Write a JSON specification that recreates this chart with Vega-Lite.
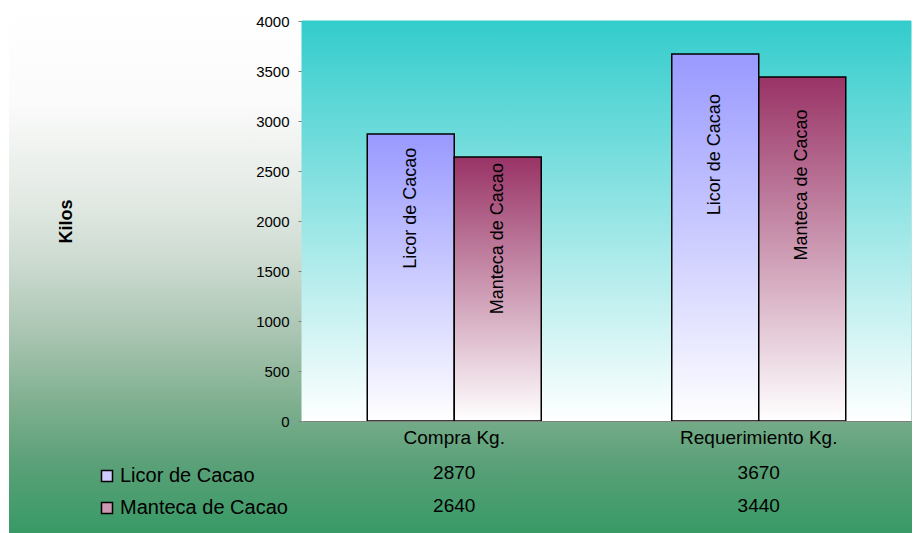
{
  "$schema": "https://vega.github.io/schema/vega-lite/v6.json",
  "width": 903,
  "height": 526,
  "autosize": {"type": "none"},
  "padding": {"left": 9, "top": 7, "right": 3, "bottom": 0},
  "background": "#ffffff",
  "view": {
    "stroke": null,
    "fill": {
      "gradient": "linear", "x1": 0, "y1": 0, "x2": 0, "y2": 1,
      "stops": [
        {"offset": 0, "color": "#ffffff"},
        {"offset": 0.18, "color": "#fbfbfb"},
        {"offset": 0.37, "color": "#e2e9e3"},
        {"offset": 0.49, "color": "#cbdacf"},
        {"offset": 0.62, "color": "#aac5b2"},
        {"offset": 0.75, "color": "#80b090"},
        {"offset": 0.87, "color": "#5aa078"},
        {"offset": 1, "color": "#389a66"}
      ]
    }
  },
  "data": {
    "values": [
      {"category": "Compra Kg.", "series": "Licor de Cacao", "value": 2870},
      {"category": "Compra Kg.", "series": "Manteca de Cacao", "value": 2640},
      {"category": "Requerimiento Kg.", "series": "Licor de Cacao", "value": 3670},
      {"category": "Requerimiento Kg.", "series": "Manteca de Cacao", "value": 3440}
    ]
  },
  "encoding": {
    "x": {
      "field": "category",
      "type": "nominal",
      "sort": ["Compra Kg.", "Requerimiento Kg."],
      "scale": {"range": [293, 902], "paddingInner": 0, "paddingOuter": 0},
      "axis": {
        "title": null,
        "offset": -112,
        "labelAngle": 0,
        "ticks": false,
        "domainColor": "#808080",
        "labelFont": "Liberation Sans",
        "labelFontSize": 19,
        "labelColor": "#000000",
        "labelPadding": 7
      }
    }
  },
  "layer": [
    {
      "transform": [{"aggregate": [{"op": "count", "as": "n"}], "groupby": ["category"]}],
      "mark": {
        "type": "rect",
        "fill": {
          "gradient": "linear", "x1": 0, "y1": 0, "x2": 0, "y2": 1,
          "stops": [{"offset": 0, "color": "#33cccc"}, {"offset": 1, "color": "#ffffff"}]
        },
        "stroke": {
          "gradient": "linear", "x1": 0, "y1": 0, "x2": 0, "y2": 1,
          "stops": [{"offset": 0, "color": "#33cccc"}, {"offset": 1, "color": "#ffffff"}]
        },
        "strokeWidth": 1
      },
      "encoding": {
        "y": {"datum": 4000, "type": "quantitative", "scale": {"domain": [0, 4000], "range": [414, 14], "nice": false}, "axis": null},
        "y2": {"datum": 0}
      }
    },
    {
      "mark": {"type": "bar", "stroke": "#000000", "strokeWidth": 1.5},
      "encoding": {
        "y": {
          "field": "value",
          "type": "quantitative",
          "scale": {"domain": [0, 4000], "range": [414, 14], "nice": false},
          "axis": {
            "offset": -293,
            "values": [0, 500, 1000, 1500, 2000, 2500, 3000, 3500, 4000],
            "format": "d",
            "grid": false,
            "title": "Kilos",
            "titleFont": "Liberation Sans",
            "titleFontSize": 18,
            "titleFontWeight": "bold",
            "titleColor": "#000000",
            "titleAngle": 270,
            "titleAlign": "center",
            "titleBaseline": "middle",
            "titleX": -236,
            "titleY": 214,
            "labelFont": "Liberation Sans",
            "labelFontSize": 15,
            "labelColor": "#000000",
            "labelPadding": 9,
            "tickSize": 4,
            "tickColor": "#808080",
            "domainColor": "#808080"
          }
        },
        "xOffset": {
          "field": "series",
          "type": "nominal",
          "scale": {"paddingInner": 0, "paddingOuter": 0.75}
        },
        "fill": {
          "field": "series",
          "type": "nominal",
          "scale": {
            "domain": ["Licor de Cacao", "Manteca de Cacao"],
            "range": ["#ccccff", "#cc99b2"]
          },
          "condition": [
            {
              "test": "datum.series === 'Licor de Cacao'",
              "value": {
                "gradient": "linear", "x1": 0, "y1": 0, "x2": 0, "y2": 1,
                "stops": [{"offset": 0, "color": "#9999ff"}, {"offset": 1, "color": "#ffffff"}]
              }
            },
            {
              "test": "datum.series === 'Manteca de Cacao'",
              "value": {
                "gradient": "linear", "x1": 0, "y1": 0, "x2": 0, "y2": 1,
                "stops": [{"offset": 0, "color": "#993366"}, {"offset": 1, "color": "#ffffff"}]
              }
            }
          ],
          "legend": {
            "orient": "none",
            "legendX": 88,
            "legendY": 459,
            "title": null,
            "symbolType": "square",
            "symbolSize": 121,
            "symbolStrokeColor": "#000000",
            "symbolStrokeWidth": 1.5,
            "labelFont": "Liberation Sans",
            "labelFontSize": 20,
            "labelColor": "#000000",
            "labelLimit": 0,
            "labelOffset": 3,
            "rowPadding": 12,
            "encoding": {
              "symbols": {
                "fill": {
                  "value": {
                    "expr": "datum.value === 'Licor de Cacao' ? {gradient: 'linear', x1: 0, y1: 0, x2: 0, y2: 1, stops: [{offset: 0, color: '#9999ff'}, {offset: 1, color: '#ffffff'}]} : {gradient: 'linear', x1: 0, y1: 0, x2: 0, y2: 1, stops: [{offset: 0, color: '#993366'}, {offset: 1, color: '#ffffff'}]}"
                  }
                },
                "stroke": {"value": "#000000"},
                "strokeWidth": {"value": 1.5}
              }
            }
          }
        }
      }
    },
    {
      "mark": {
        "type": "text",
        "angle": 270,
        "align": "right",
        "baseline": "middle",
        "font": "Liberation Sans",
        "fontSize": 18,
        "color": "#000000"
      },
      "encoding": {
        "y": {
          "field": "value",
          "type": "quantitative",
          "scale": {"domain": [-1209, 4761], "range": [414, 14], "nice": false, "zero": false},
          "axis": null
        },
        "xOffset": {"field": "series", "type": "nominal"},
        "text": {"field": "series", "type": "nominal"}
      }
    },
    {
      "mark": {
        "type": "text",
        "baseline": "middle",
        "font": "Liberation Sans",
        "fontSize": 19,
        "color": "#000000"
      },
      "encoding": {
        "y": {
          "field": "series",
          "type": "nominal",
          "sort": ["Licor de Cacao", "Manteca de Cacao"],
          "scale": {"type": "point", "range": [466, 499], "padding": 0},
          "axis": null
        },
        "text": {"field": "value", "type": "quantitative", "format": "d"}
      }
    }
  ],
  "resolve": {"scale": {"y": "independent"}}
}
